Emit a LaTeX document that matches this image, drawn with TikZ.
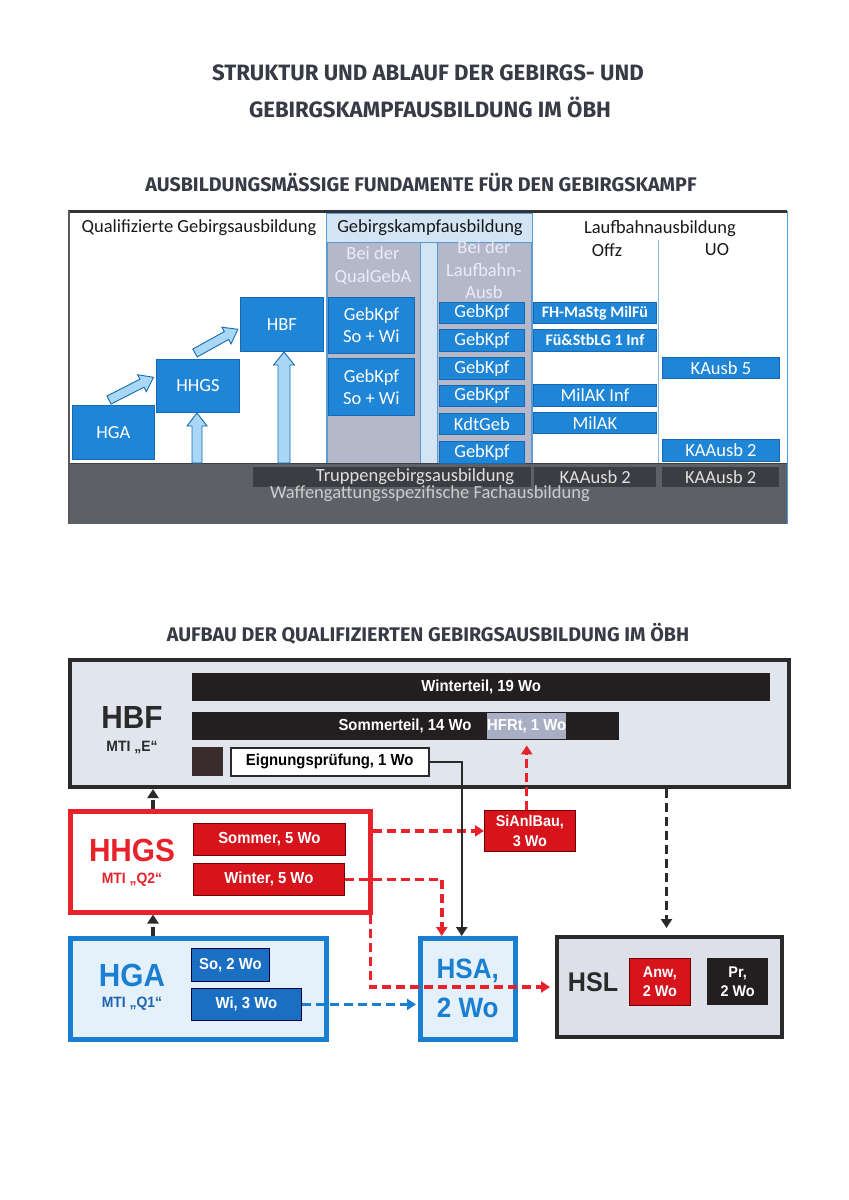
\documentclass[tikz,border=0pt]{standalone}
\usepackage{fontspec}
\usetikzlibrary{arrows.meta,calc}
\newfontfamily\calib{Carlito}
\newfontfamily\arn[FakeStretch=0.93]{Liberation Sans}
\newfontfamily\ttlfont{Fira Sans}
\definecolor{ttlc}{HTML}{383A45}
\definecolor{tbl}{HTML}{1F85D6}
\definecolor{tbd}{HTML}{1769B3}
\definecolor{midblue}{HTML}{5B9BD5}
\definecolor{lightcol}{HTML}{D3E5F5}
\definecolor{graycol}{HTML}{B5B8C8}
\definecolor{bandgray}{HTML}{5E6068}
\definecolor{banddark}{HTML}{3C3D42}
\definecolor{arrowfill}{HTML}{A8D8F5}
\definecolor{hbffill}{HTML}{E1E5EE}
\definecolor{hslfill}{HTML}{DDE0E8}
\definecolor{redb}{HTML}{E8222B}
\definecolor{redf}{HTML}{D7141C}
\definecolor{blueb}{HTML}{1A7FD0}
\definecolor{bluef}{HTML}{1B6FC2}
\definecolor{bluelight}{HTML}{E4F1FB}
\definecolor{darkb}{HTML}{2A2A2A}
\definecolor{barblack}{HTML}{231F20}
\definecolor{hfrtc}{HTML}{A8AFC5}
\definecolor{sqc}{HTML}{3A2C2C}
\definecolor{mtiblue}{HTML}{1F63B0}
\newcommand\blkarrow[6]{%
\begin{scope}[shift={(#1,#2)},rotate=#3]
\draw[arrowst] (0,-#5) -- (#4-13,-#5) -- (#4-13,-#6) -- (#4,0) -- (#4-13,#6) -- (#4-13,#5) -- (0,#5) -- cycle;
\end{scope}}
\tikzset{
 ttl/.style={font=\ttlfont\bfseries\fontsize{22.2}{26}\selectfont, text=ttlc, inner sep=0pt},
 sttl/.style={font=\ttlfont\bfseries\fontsize{19.7}{23}\selectfont, text=ttlc, inner sep=0pt},
 hd/.style={font=\calib\fontsize{18.5}{22}\selectfont, text=black!90, inner sep=0pt, align=center},
 wt/.style={font=\calib\fontsize{18.5}{22.5}\selectfont, text=white!92!blue, inner sep=0pt, align=center},
 tb/.style={draw=tbd, fill=tbl, text=white, font=\calib\fontsize{18.5}{22}\selectfont, inner sep=0pt, align=center, anchor=north west, line width=0.8pt},
 tbb/.style={tb, font=\calib\bfseries\fontsize{16}{19}\selectfont},
 dk/.style={fill=banddark, text=white!88!black, font=\calib\fontsize{18.5}{22}\selectfont, inner sep=0pt, anchor=north west},
 arrowst/.style={draw=tbd, fill=arrowfill, line width=0.9pt, line join=miter},
 bf/.style={font=\arn\bfseries\fontsize{16}{19}\selectfont, inner sep=0pt, align=center, anchor=north west},
 bf2/.style={font=\arn\bfseries\fontsize{15.5}{19.5}\selectfont},
 blackbar/.style={bf, fill=barblack, text=white},
 redbox/.style={bf, fill=redf, draw=red!45!black, line width=0.8pt, text=white},
 bluebox/.style={bf, fill=bluef, draw=blue!30!black, line width=0.8pt, text=white},
 bigl/.style={font=\arn\bfseries\fontsize{32}{36}\selectfont, inner sep=0pt},
 mti/.style={font=\arn\bfseries\fontsize{15}{18}\selectfont, inner sep=0pt},
 cont/.style={anchor=north west, inner sep=0pt, line width=4.5pt},
 tip/.style={-{Triangle[length=9pt,width=11pt]}},
 blkdash/.style={tip, draw=darkb, line width=3.5pt, dash pattern=on 9pt off 5pt},
 reddash/.style={tip, draw=redb, line width=3.5pt, dash pattern=on 9pt off 5pt},
 bluedash/.style={tip, draw=blueb, line width=3.5pt, dash pattern=on 9pt off 5pt},
 blksolid/.style={tip, draw=darkb, line width=2.5pt},
}
\begin{document}
\begin{tikzpicture}[x=1pt,y=-1pt]
\useasboundingbox[fill=white] (0,0) rectangle (849,1200);

% titles
\node[ttl] (t1) at (428,73) {STRUKTUR UND ABLAUF DER GEBIRGS- UND};
\node[ttl] (t2) at (430,107) {GEBIRGSKAMPFAUSBILDUNG IM ÖBH};
\node[sttl] (s1) at (421,183) {AUSBILDUNGSMÄSSIGE FUNDAMENTE FÜR DEN GEBIRGSKAMPF};
\node[sttl] (s2) at (428,634) {AUFBAU DER QUALIFIZIERTEN GEBIRGSAUSBILDUNG IM ÖBH};

% ===== top diagram =====
\fill[white] (69,211) rectangle (787,463);
\draw[midblue, fill=lightcol, line width=0.8pt] (326,213) rectangle (532,463);
\draw[midblue, line width=0.8pt] (326,213) rectangle (532,242);
\draw[midblue, fill=graycol, line width=0.8pt] (327,242) rectangle (420,463);
\draw[midblue, fill=graycol, line width=0.8pt] (437,242) rectangle (531,463);
\draw[midblue!70, line width=0.8pt] (658,240) -- (658,463);
\fill[bandgray] (69,463) rectangle (787,524);
\draw[black!75, line width=1pt] (69,463.5) -- (787,463.5);
\fill[banddark] (253,467) rectangle (531,487);
\draw[black!80, line width=3pt] (68,211.5) -- (787,211.5);
\draw[black!65, line width=2pt] (69,211) -- (69,524);
\draw[midblue, line width=0.8pt] (787,211) -- (787,524);

\node[hd] (qg) at (199,228) {Qualifizierte Gebirgsausbildung};
\node[hd] (gk) at (430,228) {Gebirgskampfausbildung};
\node[hd] (lb) at (660,229) {Laufbahnausbildung};
\node[hd] (offz) at (607,250) {Offz};
\node[hd] (uo) at (717,250) {UO};
\node[wt] (bq) at (373,266) {Bei der\\QualGebA};
\node[wt] (bl) at (484,270) {Bei der\\Laufbahn-\\Ausb};

\node[tb, minimum width=82pt, minimum height=54pt] (hga) at (72,405) {HGA};
\node[tb, minimum width=83pt, minimum height=53pt] (hhgs) at (156,359) {HHGS};
\node[tb, minimum width=83pt, minimum height=54pt] (hbf) at (240,297) {HBF};
\node[tb, minimum width=86pt, minimum height=56pt] (gk1) at (328,297) {GebKpf\\So + Wi};
\node[tb, minimum width=86pt, minimum height=57pt] (gk2) at (328,358) {GebKpf\\So + Wi};
\node[tb, minimum width=85pt, minimum height=21pt] (l1) at (439,302) {GebKpf};
\node[tb, minimum width=85pt, minimum height=22pt] (l2) at (439,329) {GebKpf};
\node[tb, minimum width=85pt, minimum height=22pt] (l3) at (439,357) {GebKpf};
\node[tb, minimum width=85pt, minimum height=21pt] (l4) at (439,385) {GebKpf};
\node[tb, minimum width=85pt, minimum height=21pt] (l5) at (439,413) {KdtGeb};
\node[tb, minimum width=85pt, minimum height=22pt] (l6) at (439,441) {GebKpf};
\node[tbb, minimum width=123pt, minimum height=21pt] (o1) at (533,302) {FH-MaStg MilFü};
\node[tbb, minimum width=123pt, minimum height=22pt] (o2) at (533,329) {Fü\&StbLG 1 Inf};
\node[tb, minimum width=123pt, minimum height=22pt] (o3) at (533,384) {MilAK Inf};
\node[tb, minimum width=123pt, minimum height=21pt] (o4) at (533,412) {MilAK};
\node[tb, minimum width=117pt, minimum height=21pt] (u1) at (662,357) {KAusb 5};
\node[tb, minimum width=117pt, minimum height=22pt] (u2) at (662,439) {KAAusb 2};

\node[hd, text=white!88!black] (tg) at (415,477) {Truppengebirgsausbildung};
\node[dk, minimum width=122pt, minimum height=20pt] (k1) at (534,467) {KAAusb 2};
\node[dk, minimum width=117pt, minimum height=20pt] (k2) at (662,467) {KAAusb 2};
\node[hd, text=white!80!black] (wf) at (430,494) {Waffengattungsspezifische Fachausbildung};

\blkarrow{109}{400}{27}{50}{4.5}{9.5}
\blkarrow{195}{353}{29}{49}{4.5}{9.5}
\blkarrow{197}{463}{90}{50}{5}{10}
\blkarrow{284}{463}{90}{111}{6}{10.5}

% ===== bottom diagram =====
\node[cont, draw=darkb, fill=hbffill, line width=4pt, minimum width=719pt, minimum height=127pt] (hbfbox) at (68,658) {};
\node[bigl, text=darkb] (hbft) at (132,717) {HBF};
\node[mti, text=darkb] (hbfm) at (132,747) {MTI „E“};
\node[blackbar, minimum width=578pt, minimum height=28pt] (winterteil) at (192,673) {Winterteil, 19 Wo};
\node[blackbar, minimum width=427pt, minimum height=28pt] (sommerteil) at (192,712) {};
\node[bf, anchor=center, text=white] (sommert) at (405,726) {Sommerteil, 14 Wo};
\node[bf, fill=hfrtc, text=white, minimum width=79pt, minimum height=26pt] (hfrt) at (487,713) {HFRt, 1 Wo};
\node[anchor=north west, fill=sqc, inner sep=0pt, minimum width=31pt, minimum height=29pt] (sq) at (192,747) {};
\node[bf, fill=white, draw=darkb, line width=1.5pt, minimum width=198pt, minimum height=28pt] (eign) at (230,747) {Eignungsprüfung, 1 Wo};

\node[cont, draw=redb, fill=white, minimum width=300pt, minimum height=101pt] (hhgsbox) at (68,809) {};
\node[bigl, text=redb] (hhgst) at (132,850) {HHGS};
\node[mti, text=redb] (hhgsm) at (132,880) {MTI „Q2“};
\node[redbox, minimum width=152pt, minimum height=32pt] (sommer) at (193,823) {Sommer, 5 Wo};
\node[redbox, minimum width=151pt, minimum height=32pt] (winter) at (193,863) {Winter, 5 Wo};

\node[cont, draw=blueb, fill=bluelight, minimum width=256pt, minimum height=101pt] (hgabox) at (68,936) {};
\node[bigl, text=blueb] (hgat) at (132,975) {HGA};
\node[mti, text=mtiblue] (hgam) at (132,1004) {MTI „Q1“};
\node[bluebox, minimum width=78pt, minimum height=33pt] (so) at (191,948) {So, 2 Wo};
\node[bluebox, minimum width=110pt, minimum height=32pt] (wi) at (191,988) {Wi, 3 Wo};

\node[cont, draw=blueb, fill=bluelight, minimum width=95pt, minimum height=101pt, text=blueb, font=\arn\bfseries\fontsize{28}{39}\selectfont, align=center] (hsa) at (418,936) {HSA,\\2 Wo};

\node[cont, draw=darkb, fill=hslfill, line width=4pt, minimum width=225pt, minimum height=100pt] (hsl) at (555,935) {};
\node[font=\arn\bfseries\fontsize{27}{30}\selectfont, text=darkb, inner sep=0pt] (hslt) at (593,982) {HSL};
\node[redbox, bf2, minimum width=61pt, minimum height=47pt] (anw) at (629,958) {Anw,\\2 Wo};
\node[bf, bf2, fill=barblack, text=white, minimum width=61pt, minimum height=47pt] (pr) at (707,958) {Pr,\\2 Wo};

\node[redbox, bf2, minimum width=91pt, minimum height=41pt] (sianl) at (484,810) {SiAnlBau,\\3 Wo};

% connectors
\coordinate (c1) at ($(hsa.north)+(-26,0)$);
\coordinate (c2) at ($(hsa.north)+(-6,0)$);
\coordinate (c3) at ($(hsl.north)+(-3,0)$);
\draw[blkdash] ($(hhgsbox.north west)+(85,0)$) -- ($(hbfbox.south west)+(85,0)$);
\draw[blkdash] ($(hgabox.north west)+(85,0)$) -- ($(hhgsbox.south west)+(85,0)$);
\draw[reddash] (hhgsbox.east |- sianl.west) -- (sianl.west);
\draw[reddash, shorten >=6pt] (sianl.north -| hfrt.south) -- (hfrt.south);
\draw[reddash] (winter.east) -| (c1);
\draw[blksolid] (eign.east) -| (c2);
\draw[reddash, shorten >=5pt] ($(hhgsbox.south east)+(-2,0)$) |- (hsl.west);
\draw[bluedash, shorten >=2pt] (wi.east) -- (wi.east -| hsa.west);
\draw[blkdash, shorten >=7pt] (hbfbox.south -| c3) -- (c3);
\end{tikzpicture}
\end{document}
